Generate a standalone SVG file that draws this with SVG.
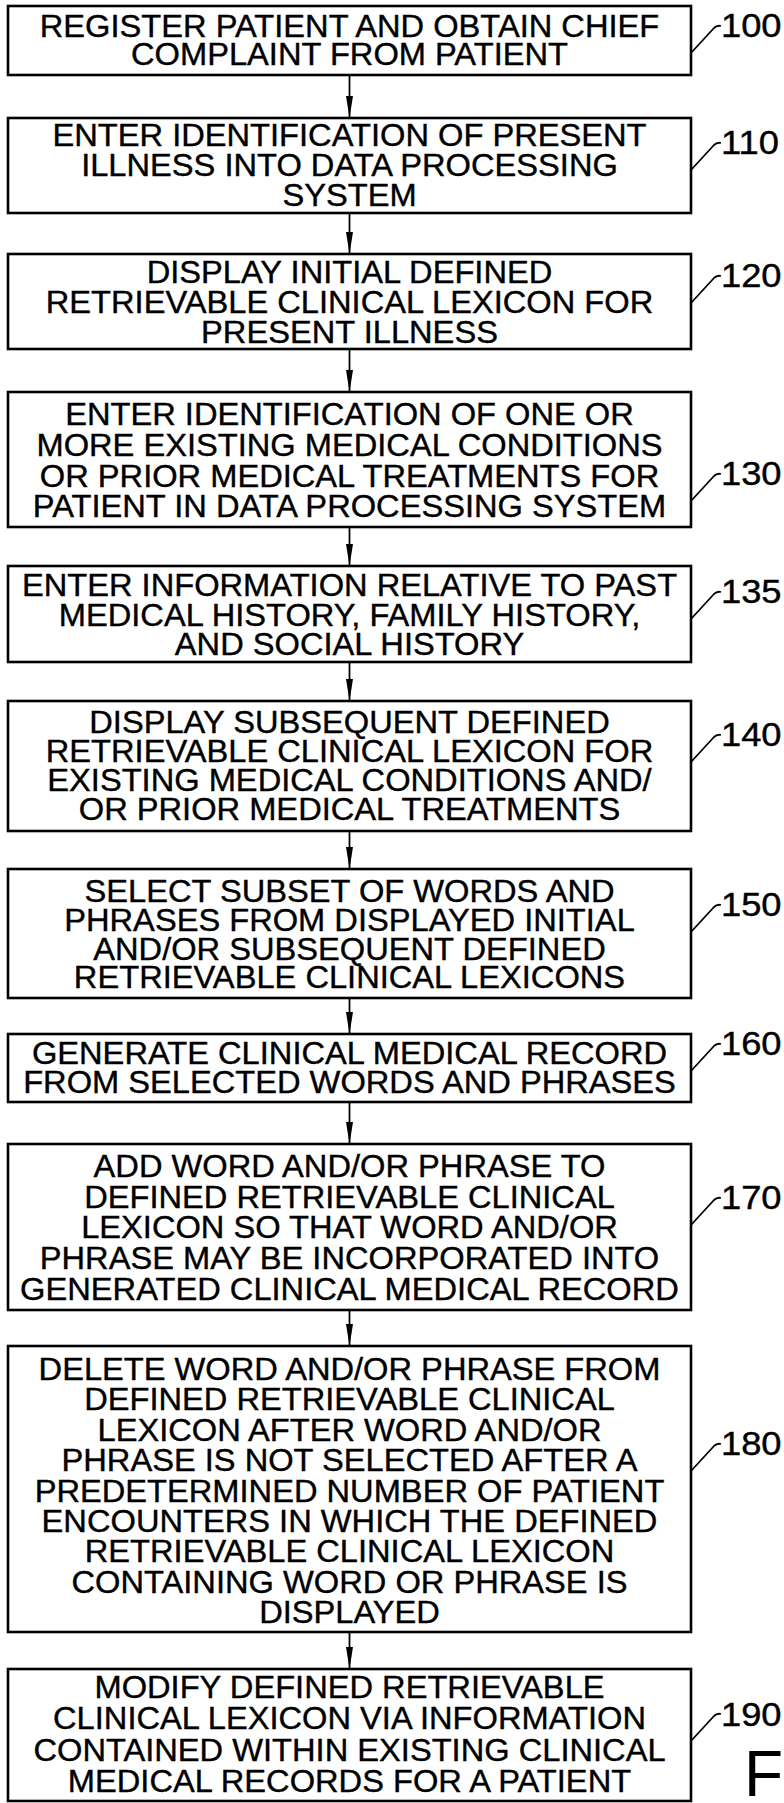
<svg xmlns="http://www.w3.org/2000/svg" width="784" height="1803" viewBox="0 0 784 1803">
<style>
.box{fill:#fff;stroke:#000;stroke-width:2.6}
.t{font-family:"Liberation Sans",Arial,sans-serif;font-size:32px;fill:#000;stroke:#000;stroke-width:0.4;text-anchor:middle}
.lbl{font-family:"Liberation Sans",Arial,sans-serif;font-size:33px;fill:#000;stroke:#000;stroke-width:0.4}
.ld{fill:none;stroke:#000;stroke-width:1.8}
.ar{stroke:#000;stroke-width:1.8;fill:none}
</style>
<defs>
<marker id="ah" markerUnits="userSpaceOnUse" markerWidth="22" markerHeight="8" refX="22" refY="4" orient="auto">
<path d="M0,0.5 L22,4 L0,7.5 Z" fill="#000"/>
</marker>
</defs>
<rect width="784" height="1803" fill="#fff"/>
<g id="connectors">
<line class="ar" x1="349.5" y1="75" x2="349.5" y2="118" marker-end="url(#ah)"/>
<line class="ar" x1="349.5" y1="213" x2="349.5" y2="254" marker-end="url(#ah)"/>
<line class="ar" x1="349.5" y1="349" x2="349.5" y2="392" marker-end="url(#ah)"/>
<line class="ar" x1="349.5" y1="527" x2="349.5" y2="566" marker-end="url(#ah)"/>
<line class="ar" x1="349.5" y1="662" x2="349.5" y2="701" marker-end="url(#ah)"/>
<line class="ar" x1="349.5" y1="831" x2="349.5" y2="869" marker-end="url(#ah)"/>
<line class="ar" x1="349.5" y1="998" x2="349.5" y2="1034" marker-end="url(#ah)"/>
<line class="ar" x1="349.5" y1="1102" x2="349.5" y2="1144" marker-end="url(#ah)"/>
<line class="ar" x1="349.5" y1="1310" x2="349.5" y2="1346" marker-end="url(#ah)"/>
<line class="ar" x1="349.5" y1="1632" x2="349.5" y2="1669" marker-end="url(#ah)"/>
</g>
<g id="n100">
<rect class="box" x="8" y="6" width="683" height="69"/>
<g transform="translate(349.5 0) scale(1.02 1)"><text class="t" x="0" y="37">REGISTER PATIENT AND OBTAIN CHIEF</text><text class="t" x="0" y="65">COMPLAINT FROM PATIENT</text></g>
<path class="ld" d="M691,53 L714,28 Q717,25 721,26"/>
<g transform="translate(721 37) scale(1.1 1)"><text class="lbl" x="0" y="0">100</text></g>
</g>
<g id="n110">
<rect class="box" x="8" y="118" width="683" height="95"/>
<g transform="translate(349.5 0) scale(1.02 1)"><text class="t" x="0" y="146">ENTER IDENTIFICATION OF PRESENT</text><text class="t" x="0" y="176">ILLNESS INTO DATA PROCESSING</text><text class="t" x="0" y="206">SYSTEM</text></g>
<path class="ld" d="M691,170 L714,145 Q717,142 721,143"/>
<g transform="translate(721 154) scale(1.1 1)"><text class="lbl" x="0" y="0">110</text></g>
</g>
<g id="n120">
<rect class="box" x="8" y="254" width="683" height="95"/>
<g transform="translate(349.5 0) scale(1.02 1)"><text class="t" x="0" y="283">DISPLAY INITIAL DEFINED</text><text class="t" x="0" y="313">RETRIEVABLE CLINICAL LEXICON FOR</text><text class="t" x="0" y="343">PRESENT ILLNESS</text></g>
<path class="ld" d="M691,303 L714,278 Q717,275 721,276"/>
<g transform="translate(721 287) scale(1.1 1)"><text class="lbl" x="0" y="0">120</text></g>
</g>
<g id="n130">
<rect class="box" x="8" y="392" width="683" height="135"/>
<g transform="translate(349.5 0) scale(1.02 1)"><text class="t" x="0" y="425">ENTER IDENTIFICATION OF ONE OR</text><text class="t" x="0" y="456">MORE EXISTING MEDICAL CONDITIONS</text><text class="t" x="0" y="487">OR PRIOR MEDICAL TREATMENTS FOR</text><text class="t" x="0" y="517">PATIENT IN DATA PROCESSING SYSTEM</text></g>
<path class="ld" d="M691,501 L714,476 Q717,473 721,474"/>
<g transform="translate(721 485) scale(1.1 1)"><text class="lbl" x="0" y="0">130</text></g>
</g>
<g id="n135">
<rect class="box" x="8" y="566" width="683" height="96"/>
<g transform="translate(349.5 0) scale(1.02 1)"><text class="t" x="0" y="596">ENTER INFORMATION RELATIVE TO PAST</text><text class="t" x="0" y="626">MEDICAL HISTORY, FAMILY HISTORY,</text><text class="t" x="0" y="655">AND SOCIAL HISTORY</text></g>
<path class="ld" d="M691,619 L714,594 Q717,591 721,592"/>
<g transform="translate(721 603) scale(1.1 1)"><text class="lbl" x="0" y="0">135</text></g>
</g>
<g id="n140">
<rect class="box" x="8" y="701" width="683" height="130"/>
<g transform="translate(349.5 0) scale(1.02 1)"><text class="t" x="0" y="733">DISPLAY SUBSEQUENT DEFINED</text><text class="t" x="0" y="762">RETRIEVABLE CLINICAL LEXICON FOR</text><text class="t" x="0" y="791">EXISTING MEDICAL CONDITIONS AND/</text><text class="t" x="0" y="820">OR PRIOR MEDICAL TREATMENTS</text></g>
<path class="ld" d="M691,762 L714,737 Q717,734 721,735"/>
<g transform="translate(721 746) scale(1.1 1)"><text class="lbl" x="0" y="0">140</text></g>
</g>
<g id="n150">
<rect class="box" x="8" y="869" width="683" height="129"/>
<g transform="translate(349.5 0) scale(1.02 1)"><text class="t" x="0" y="902">SELECT SUBSET OF WORDS AND</text><text class="t" x="0" y="931">PHRASES FROM DISPLAYED INITIAL</text><text class="t" x="0" y="960">AND/OR SUBSEQUENT DEFINED</text><text class="t" x="0" y="988">RETRIEVABLE CLINICAL LEXICONS</text></g>
<path class="ld" d="M691,932 L714,907 Q717,904 721,905"/>
<g transform="translate(721 916) scale(1.1 1)"><text class="lbl" x="0" y="0">150</text></g>
</g>
<g id="n160">
<rect class="box" x="8" y="1034" width="683" height="68"/>
<g transform="translate(349.5 0) scale(1.02 1)"><text class="t" x="0" y="1064">GENERATE CLINICAL MEDICAL RECORD</text><text class="t" x="0" y="1093">FROM SELECTED WORDS AND PHRASES</text></g>
<path class="ld" d="M691,1071 L714,1046 Q717,1043 721,1044"/>
<g transform="translate(721 1055) scale(1.1 1)"><text class="lbl" x="0" y="0">160</text></g>
</g>
<g id="n170">
<rect class="box" x="8" y="1144" width="683" height="166"/>
<g transform="translate(349.5 0) scale(1.02 1)"><text class="t" x="0" y="1177">ADD WORD AND/OR PHRASE TO</text><text class="t" x="0" y="1208">DEFINED RETRIEVABLE CLINICAL</text><text class="t" x="0" y="1238">LEXICON SO THAT WORD AND/OR</text><text class="t" x="0" y="1269">PHRASE MAY BE INCORPORATED INTO</text><text class="t" x="0" y="1300">GENERATED CLINICAL MEDICAL RECORD</text></g>
<path class="ld" d="M691,1225 L714,1200 Q717,1197 721,1198"/>
<g transform="translate(721 1209) scale(1.1 1)"><text class="lbl" x="0" y="0">170</text></g>
</g>
<g id="n180">
<rect class="box" x="8" y="1346" width="683" height="286"/>
<g transform="translate(349.5 0) scale(1.02 1)"><text class="t" x="0" y="1380">DELETE WORD AND/OR PHRASE FROM</text><text class="t" x="0" y="1410">DEFINED RETRIEVABLE CLINICAL</text><text class="t" x="0" y="1441">LEXICON AFTER WORD AND/OR</text><text class="t" x="0" y="1471">PHRASE IS NOT SELECTED AFTER A</text><text class="t" x="0" y="1502">PREDETERMINED NUMBER OF PATIENT</text><text class="t" x="0" y="1532">ENCOUNTERS IN WHICH THE DEFINED</text><text class="t" x="0" y="1562">RETRIEVABLE CLINICAL LEXICON</text><text class="t" x="0" y="1593">CONTAINING WORD OR PHRASE IS</text><text class="t" x="0" y="1623">DISPLAYED</text></g>
<path class="ld" d="M691,1471 L714,1446 Q717,1443 721,1444"/>
<g transform="translate(721 1455) scale(1.1 1)"><text class="lbl" x="0" y="0">180</text></g>
</g>
<g id="n190">
<rect class="box" x="8" y="1669" width="683" height="132"/>
<g transform="translate(349.5 0) scale(1.02 1)"><text class="t" x="0" y="1698">MODIFY DEFINED RETRIEVABLE</text><text class="t" x="0" y="1729">CLINICAL LEXICON VIA INFORMATION</text><text class="t" x="0" y="1761">CONTAINED WITHIN EXISTING CLINICAL</text><text class="t" x="0" y="1792">MEDICAL RECORDS FOR A PATIENT</text></g>
<path class="ld" d="M691,1741 L714,1716 Q717,1713 721,1714"/>
<g transform="translate(721 1726) scale(1.1 1)"><text class="lbl" x="0" y="0">190</text></g>
</g>
<text x="744" y="1796" font-family="Liberation Sans, Arial, sans-serif" font-size="64">F</text>
</svg>
